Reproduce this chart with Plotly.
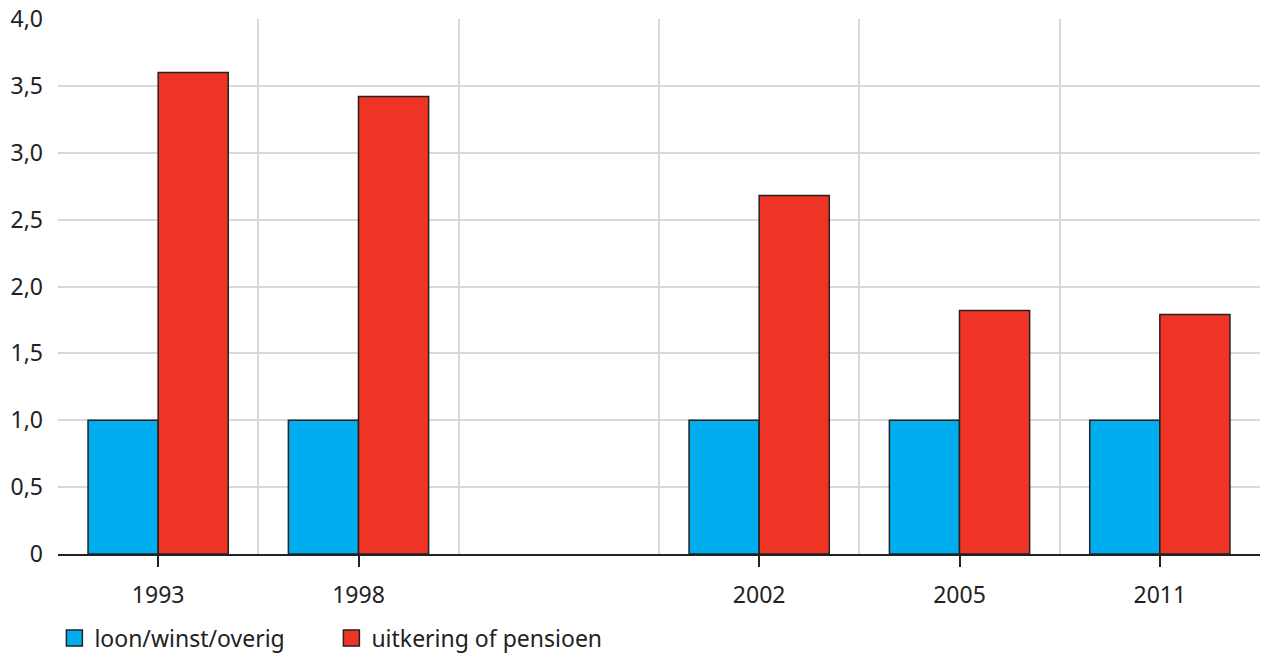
import plotly.graph_objects as go

categories = ["1993", "1998", " ", "2002", "2005", "2011"]
loon = [1.0, 1.0, None, 1.0, 1.0, 1.0]
uitkering = [3.6, 3.42, None, 2.68, 1.82, 1.79]
series_names = ["loon/winst/overig", "uitkering of pensioen"]
colors = ["#00aeef", "#ef3425"]
x_tick_labels = [c for c in categories if c.strip()]
y_tickvals = [0, 0.5, 1.0, 1.5, 2.0, 2.5, 3.0, 3.5, 4.0]
y_ticktext = ["0", "0,5", "1,0", "1,5", "2,0", "2,5", "3,0", "3,5", "4,0"]

FONT = "Noto Sans"
TXT = "#222222"
GRID = "#d9d9d9"
EDGE = "#222222"

fig = go.Figure()
for vals, name, col in zip([loon, uitkering], series_names, colors):
    fig.add_trace(go.Bar(x=categories, y=vals, name=name, showlegend=False,
                         marker=dict(color=col, line=dict(color=EDGE, width=1.5))))
# legend proxies with larger square swatches
for name, col in zip(series_names, colors):
    fig.add_trace(go.Scatter(x=[None], y=[None], mode="markers", name=name,
                             marker=dict(symbol="square", size=22, color=col,
                                         line=dict(color=EDGE, width=1.5))))
# helper trace for boundary gridlines axis
fig.add_trace(go.Scatter(x=categories, y=[0] * len(categories), xaxis="x2", mode="markers",
                         marker=dict(opacity=0), showlegend=False, hoverinfo="skip"))

fig.update_layout(
    width=1262, height=653,
    margin=dict(l=58, r=2, t=19, b=99),
    plot_bgcolor="white", paper_bgcolor="white",
    barmode="group", bargap=0.3, bargroupgap=0,
    font=dict(family=FONT, size=23, color=TXT),
    showlegend=True,
    legend=dict(orientation="h", x=-0.003, xanchor="left",
                yref="container", y=0.023, yanchor="middle",
                font=dict(size=23, color=TXT), traceorder="normal",
                itemsizing="trace", entrywidth=232, entrywidthmode="pixels"),
    xaxis=dict(type="category", categoryorder="array", categoryarray=categories,
               range=[-0.5, 5.5], showgrid=False, automargin=False,
               tickmode="array", tickvals=x_tick_labels, ticktext=x_tick_labels,
               ticks="outside", ticklen=11, tickwidth=2, tickcolor=EDGE,
               ticklabelstandoff=8,
               showline=True, linecolor=EDGE, linewidth=2,
               tickfont=dict(size=23, color=TXT)),
    xaxis2=dict(type="category", categoryorder="array", categoryarray=categories,
                range=[-0.5, 5.5], overlaying="x", anchor="y", side="bottom",
                tickson="boundaries", showgrid=True, gridcolor=GRID, gridwidth=2,
                ticks="", showticklabels=False, showline=False, automargin=False),
    yaxis=dict(range=[0, 4], tickvals=y_tickvals, ticktext=y_ticktext,
               showgrid=True, gridcolor=GRID, gridwidth=2, zeroline=False,
               ticks="", ticklabelstandoff=14, automargin=False,
               tickfont=dict(size=23, color=TXT)),
)

fig.write_html("out.html", config={"displayModeBar": False},
               post_script="document.body.style.margin='0';document.body.style.overflow='hidden';")
